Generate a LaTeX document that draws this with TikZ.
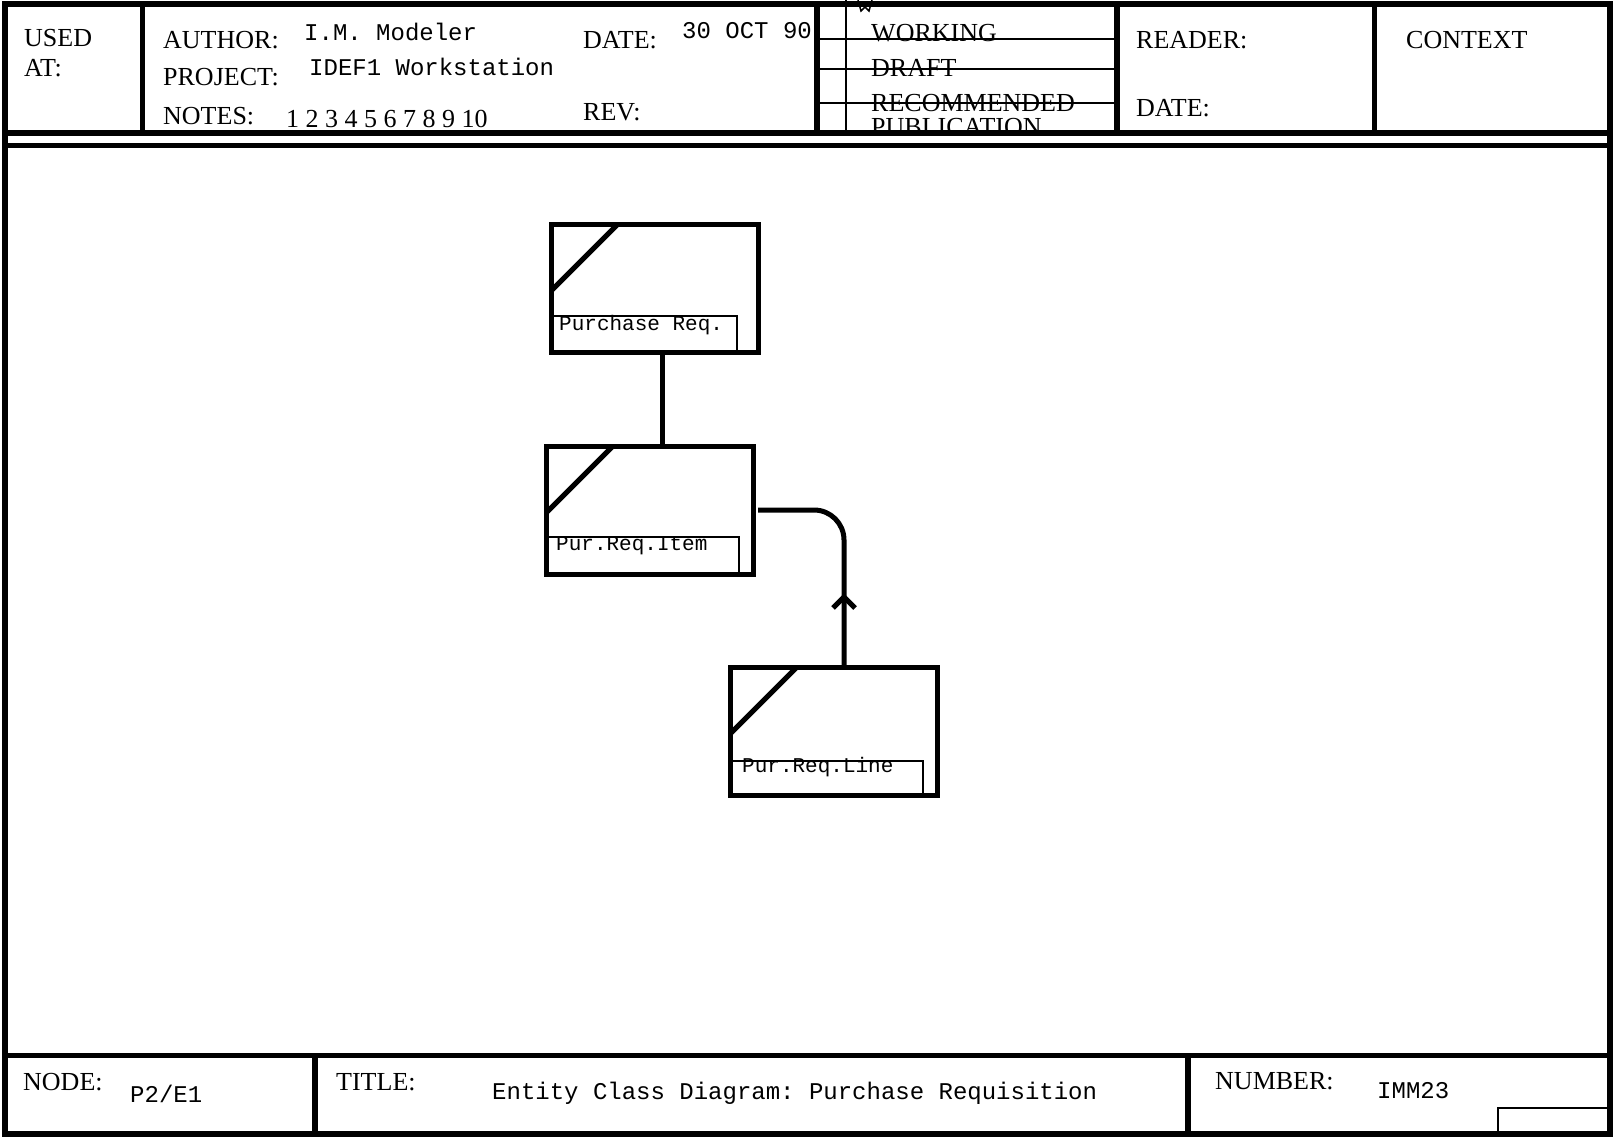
\documentclass[tikz,border=0pt]{standalone}
\usepackage{fontspec}
\setmainfont{Liberation Serif}
\newfontfamily\courfont{Liberation Mono}
\usetikzlibrary{calc}
\frenchspacing
\begin{document}
\frenchspacing
\begin{tikzpicture}[x=1pt,y=-1pt,
  lbl/.style={anchor=base west, inner sep=0, font=\fontsize{26}{30}\selectfont},
  val/.style={anchor=base west, inner sep=0, font=\courfont\fontsize{24}{28}\selectfont},
  ename/.style={anchor=base west, inner sep=0, font=\courfont\fontsize{21}{24}\selectfont},
  entity/.style={draw, line width=5pt, minimum width=207pt, minimum height=128pt, inner sep=0, outer sep=0},
  frm/.style={line width=6pt},
  midln/.style={line width=5pt},
  thinln/.style={line width=2.5pt},
  conn/.style={line width=5pt}]
\useasboundingbox (0,0) rectangle (1614,1138);
% frame
\draw[frm] (5,4) rectangle (1610,1134);
\draw[frm] (5,133) -- (1610,133);
\draw[midln] (5,145) -- (1610,145);
% header dividers
\draw[midln] (142,4) -- (142,133);
\draw[frm] (817,4) -- (817,133);
\draw[thinln] (846,0) -- (846,133);
\draw[frm] (1117,4) -- (1117,133);
\draw[midln] (1374,4) -- (1374,133);
\draw[line width=1.5pt] (858,0) -- (861,11) -- (865,7) -- (869,11) -- (872,0);
% header texts
\node[lbl] (used) at (24,46) {USED};
\node[lbl] (at) at (24,76) {AT:};
\node[lbl] (author) at (163,48) {AUTHOR:};
\node[val] (authorv) at (304,40) {I.M. Modeler};
\node[lbl] (project) at (163,85) {PROJECT:};
\node[val] (projectv) at (309,75) {IDEF1 Workstation};
\node[lbl] (notes) at (163,124) {NOTES:};
\node[lbl] (notesv) at (286,127) {1 2 3 4 5 6 7 8 9 10};
\node[lbl] (date) at (583,48) {DATE:};
\node[val] (datev) at (682,38) {30 OCT 90};
\node[lbl] (rev) at (583,120) {REV:};
\node[lbl] (working) at (871,41) {WORKING};
\node[lbl] (draft) at (871,76) {DRAFT};
\node[lbl] (recom) at (871,111) {RECOMMENDED};
\begin{scope}
\clip (846,0) rectangle (1117,131);
\node[lbl] (publ) at (871,135) {PUBLICATION};
\end{scope}
\foreach \yy in {39,69,103} \draw[thinln] (817,\yy) -- (1117,\yy);
\node[lbl] (reader) at (1136,48) {READER:};
\node[lbl] (rdate) at (1136,116) {DATE:};
\node[lbl] (context) at (1406,48) {CONTEXT};
% bottom bar
\draw[midln] (5,1055) -- (1610,1055);
\draw[frm] (315,1055) -- (315,1134);
\draw[frm] (1188,1055) -- (1188,1134);
\draw[thinln] (1498,1134) -- (1498,1108) -- (1610,1108);
\node[lbl] (node) at (23,1090) {NODE:};
\node[val] (nodev) at (130,1102) {P2/E1};
\node[lbl] (title) at (336,1090) {TITLE:};
\node[val] (titlev) at (492,1099) {Entity Class Diagram: Purchase Requisition};
\node[lbl] (number) at (1215,1089) {NUMBER:};
\node[val] (numberv) at (1377,1098) {IMM23};
% entities
\node[entity] (e1) at (654.5,288) {};
\node[entity] (e2) at (649.5,510) {};
\node[entity] (e3) at (833.5,731) {};
\draw[conn] ($(e1.north west)+(0,67)$) -- ($(e1.north west)+(67,0)$);
\draw[conn] ($(e2.north west)+(0,67)$) -- ($(e2.north west)+(67,0)$);
\draw[conn] ($(e3.north west)+(0,67)$) -- ($(e3.north west)+(67,0)$);
\draw[thinln] ($(e1.south west)+(0,-36)$) -| ($(e1.south east)+(-21,0)$);
\draw[thinln] ($(e2.south west)+(0,-37)$) -| ($(e2.south east)+(-14,0)$);
\draw[thinln] ($(e3.south west)+(0,-34)$) -| ($(e3.south east)+(-14,0)$);
\node[ename] (n1) at ($(e1.south west)+(8,-22)$) {Purchase Req.};
\node[ename] (n2) at ($(e2.south west)+(10,-24)$) {Pur.Req.Item};
\node[ename] (n3) at ($(e3.south west)+(12,-23)$) {Pur.Req.Line};
% connectors
\coordinate (x1) at (662,0);
\coordinate (x2) at (844,0);
\draw[conn] (e1.south -| x1) -- (e2.north -| x1);
\draw[conn, rounded corners=30pt] ($(e2.east)+(5,0)$) -- (e2.east -| x2) -- (e3.north -| x2);
\coordinate (tip) at (844,597);
\draw[conn] ($(tip)+(-11,11)$) -- (tip) -- ($(tip)+(11,11)$);
\end{tikzpicture}
\end{document}
